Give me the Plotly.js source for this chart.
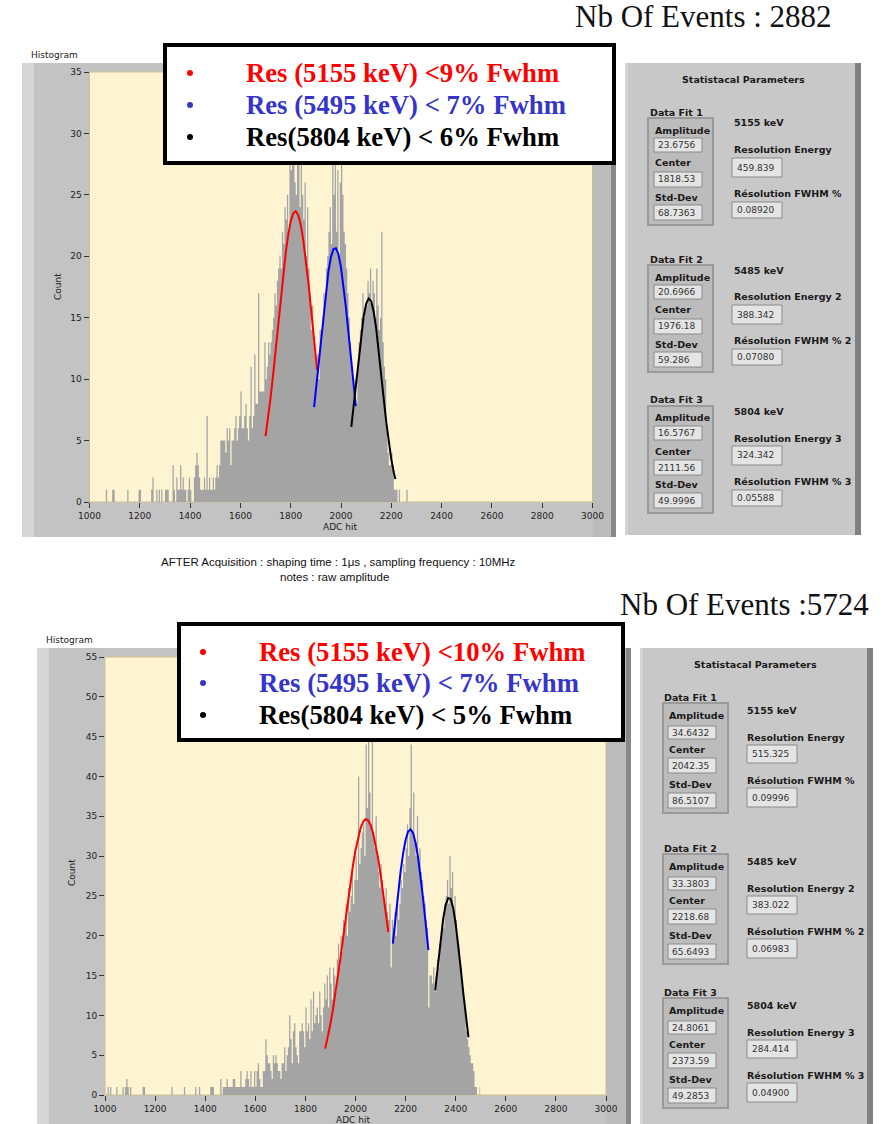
<!DOCTYPE html>
<html><head><meta charset="utf-8">
<script src="https://cdn.plot.ly/plotly-3.0.1.min.js"></script>
<style>html,body{margin:0;padding:0;background:#fff}#chart{width:884px;height:1124px}</style>
</head><body><div id="chart"></div>
<script>
// ---------------- DATA ----------------
const binStart = 1000, binWidth = 5;
const xTicks = [1000,1200,1400,1600,1800,2000,2200,2400,2600,2800,3000];
const yTicksTop = [0,5,10,15,20,25,30,35];
const yTicksBottom = [0,5,10,15,20,25,30,35,40,45,50,55];

// top histogram counts, 5-ADC bins from 1000
const countsTop = [
  0,0,0,0,0,0,0,0,0,0,0,0,0,1,0,0,0,0,1,1,
  0,0,0,0,0,0,0,0,0,0,1,0,0,0,0,0,0,0,0,1,
  1,0,0,0,0,0,0,0,0,1,2,0,0,1,0,1,0,1,0,0,
  1,1,1,0,0,0,3,1,0,2,1,1,3,1,2,1,1,0,1,2,
  1,0,0,2,3,4,3,2,1,1,1,2,1,7,1,2,1,1,2,1,
  2,3,2,3,5,5,5,5,4,6,5,6,3,5,5,6,7,5,6,7,
  9,6,6,7,8,6,5,7,11,6,7,12,8,8,17,9,9,9,9,13,
  10,11,13,12,13,14,15,17,16,18,19,20,19,22,21,24,23,25,22,28,
  27,30,36,26,25,36,32,24,28,25,23,26,20,24,19,17,14,16,13,12,
  11,12,10,14,13,15,17,16,19,20,22,24,21,28,25,30,22,27,20,26,
  34,25,22,21,19,17,15,13,11,10,9,10,8,11,13,14,15,17,15,16,
  16,18,17,19,16,18,17,15,19,16,14,15,22,13,11,10,6,4,3,3,
  4,3,1,1,1,0,1,0,0,0,0,0,1,0,0,0,0,0,0,0
];
// bottom histogram counts, 5-ADC bins from 1000
const countsBottom = [
  0,0,1,0,1,0,0,0,0,1,0,0,0,0,1,0,1,2,1,0,
  1,0,0,0,0,0,0,0,0,0,1,1,0,0,0,0,0,0,0,0,
  0,0,0,0,0,0,0,0,0,0,0,0,0,1,0,0,0,0,0,0,
  0,0,0,1,0,0,0,0,0,0,0,0,1,0,0,1,0,0,0,0,
  0,0,0,0,1,1,1,0,0,0,0,0,2,0,1,1,1,2,1,1,
  1,1,2,2,1,1,1,1,3,1,1,1,2,3,2,1,3,1,1,3,
  1,3,4,2,1,1,3,3,7,5,4,4,3,2,5,4,5,4,3,3,
  2,4,4,6,3,5,6,10,7,4,8,9,6,5,4,8,8,9,8,6,
  11,8,9,7,12,8,13,9,10,11,9,13,10,8,11,14,12,15,11,16,
  14,12,16,15,13,17,19,16,20,18,22,21,24,20,26,23,25,28,24,27,
  30,27,40,29,31,33,34,30,44,36,45,38,34,46,33,31,35,30,28,26,
  29,27,25,24,26,23,22,24,16,22,21,23,20,25,22,24,27,26,29,28,
  31,34,30,36,44,33,38,32,30,35,29,31,28,27,25,24,22,21,11,15,
  15,14,16,13,15,17,16,19,20,22,21,24,25,27,24,30,26,28,23,25,
  22,20,19,17,16,14,12,11,8,7,6,5,4,4,3,1,1,0,0,1
];

// fitted curves
const fitTop1X = [1700,1710,1720,1730,1740,1750,1760,1770,1780,1790,1800,1810,1820,1830,1840,1850,1860,1870,1880,1890,1900,1905];
const fitTop1Y = [5.36,6.82,8.48,10.34,12.34,14.41,16.49,18.46,20.24,21.73,22.84,23.50,23.67,23.35,22.55,21.32,19.74,17.89,15.87,13.79,11.72,10.73];
const fitTop2X = [1893,1900,1910,1920,1930,1940,1950,1960,1970,1980,1990,2000,2010,2020,2030,2040,2050,2059];
const fitTop2Y = [7.73,9.06,11.10,13.21,15.28,17.18,18.78,19.94,20.59,20.66,20.15,19.10,17.60,15.76,13.71,11.60,9.54,7.81];
const fitTop3X = [2041,2050,2060,2070,2080,2090,2100,2110,2120,2130,2140,2150,2160,2170,2180,2190,2200,2210,2216];
const fitTop3Y = [6.12,7.76,9.73,11.73,13.58,15.10,16.14,16.57,16.35,15.49,14.11,12.35,10.38,8.38,6.50,4.85,3.47,2.39,1.88];

const fitBot1X = [1879,1890,1900,1910,1920,1930,1940,1950,1960,1970,1980,1990,2000,2010,2020,2030,2040,2050,2060,2070,2080,2090,2100,2110,2120,2131];
const fitBot1Y = [5.82,7.35,8.95,10.75,12.74,14.91,17.20,19.59,22.02,24.42,26.72,28.85,30.73,32.30,33.50,34.29,34.63,34.51,33.93,32.91,31.51,29.77,27.74,25.51,23.15,20.49];
const fitBot2X = [2149,2160,2170,2180,2190,2200,2210,2220,2230,2240,2250,2260,2270,2280,2291];
const fitBot2Y = [19.00,22.39,25.36,28.06,30.34,32.05,33.09,33.37,32.89,31.66,29.79,27.38,24.59,21.58,18.20];
const fitBot3X = [2318,2330,2340,2350,2360,2370,2380,2390,2400,2410,2420,2430,2440,2451];
const fitBot3Y = [13.13,16.78,19.67,22.12,23.88,24.74,24.60,23.47,21.49,18.89,15.92,12.89,10.01,7.23];

// statistical parameters (texts)
const topAmplitude = ["23.6756","20.6966","16.5767"];
const topCenter    = ["1818.53","1976.18","2111.56"];
const topStdDev    = ["68.7363","59.286","49.9996"];
const topResEnergy = ["459.839","388.342","324.342"];
const topResFwhm   = ["0.08920","0.07080","0.05588"];
const botAmplitude = ["34.6432","33.3803","24.8061"];
const botCenter    = ["2042.35","2218.68","2373.59"];
const botStdDev    = ["86.5107","65.6493","49.2853"];
const botResEnergy = ["515.325","383.022","284.414"];
const botResFwhm   = ["0.09996","0.06983","0.04900"];
const peakEnergies = ["5155 keV","5485 keV","5804 keV"];
const fitNames = ["Data Fit 1","Data Fit 2","Data Fit 3"];
const resEnergyLabels = ["Resolution Energy","Resolution Energy 2","Resolution Energy 3"];
const resFwhmLabels = ["Résolution FWHM %","Résolution FWHM % 2","Résolution FWHM % 3"];
const legendTop = ["Res (5155 keV) <9% Fwhm","Res (5495 keV) < 7% Fwhm","Res(5804 keV) < 6% Fwhm"];
const legendBottom = ["Res (5155 keV) <10% Fwhm","Res (5495 keV) < 7% Fwhm","Res(5804 keV) < 5% Fwhm"];
const legendColors = ["#ff0000","#3535c8","#000000"];
const fitColors = ["#ff0000","#0000ff","#000000"];
const eventsTop = "Nb Of Events : 2882";
const eventsBottom = "Nb Of Events :5724";
const acqLine1 = "AFTER Acquisition : shaping time : 1μs , sampling frequency : 10MHz";
const acqLine2 = "notes : raw amplitude";

// ---------------- LAYOUT HELPERS ----------------
const W = 884, H = 1124;
const X = p => p / W, Y = p => 1 - p / H;
const shapes = [], ann = [];
function rect(x0, y0, x1, y1, fill, lineColor, lw, layer) {
  shapes.push({type:'rect', xref:'paper', yref:'paper', x0:X(x0), x1:X(x1), y0:Y(y1), y1:Y(y0),
    fillcolor: fill, line:{color: lineColor || fill, width: lw || 0}, layer: layer || 'below'});
}
function dot(cx, cy, r, color) {
  shapes.push({type:'circle', xref:'paper', yref:'paper', x0:X(cx - r), x1:X(cx + r), y0:Y(cy + r), y1:Y(cy - r),
    fillcolor: color, line:{width:0}, layer:'above'});
}
function txt(x, y, t, size, opts) {
  opts = opts || {};
  ann.push({xref:'paper', yref:'paper', x:X(x), y:Y(y), text:t, showarrow:false,
    xanchor: opts.xa || 'left', yanchor: 'middle', textangle: opts.angle || 0,
    font:{family: opts.family || 'DejaVu Sans', size: size, color: opts.color || '#1a1a1a', weight: opts.bold ? 'bold' : 'normal'}});
}

// ---- histogram frames ----
function frame(fx0, fy0, fx1, fy1, px0, py0, px1, py1) {
  rect(fx0, fy0, fx1, fy1, '#c3c3c3');
  rect(fx0, fy0, fx0 + 12, fy1, '#d6d6d6');
  rect(px1, fy0, fx1 - 5, fy1, '#bbbbbb');
  rect(fx1 - 5, fy0, fx1, fy1, '#888888');
  rect(px0, py0, px1, py1, '#fef4d2', '#cdbf93', 1);
}
frame(22, 63, 616, 537, 89.5, 72, 592.5, 502);
frame(37, 648, 631, 1130, 105, 657, 606, 1095);

// ---- statistics panels ----
function statsPanel(p, amp, cen, std, resE, resF) {
  rect(p.x0, p.y0, p.x1, p.y1, '#c8c8c8');
  rect(p.x0, p.y0, p.x0 + 3, p.y1, '#d4d4d4');
  rect(p.x1 - 6, p.y0, p.x1, p.y1, '#808080');
  txt(p.tx, p.ty, 'Statistacal Parameters', 9.5, {bold:true, xa:'center'});
  for (let i = 0; i < 3; i++) {
    const b = p.fy[i], L = p.L;
    txt(p.lx, b, fitNames[i], 9.5, {bold:true});
    rect(p.sx0, b + L.sub[0], p.sx1, b + L.sub[1], '#bcbcbc', '#9a9a9a', 2);
    txt(p.lx + 5, b + L.ampL, 'Amplitude', 9.5, {bold:true});
    rect(p.vx0, b + L.ampB[0], p.vx1, b + L.ampB[1], '#e4e4e4', '#8a8a8a', 1);
    txt(p.vx0 + 2, b + (L.ampB[0] + L.ampB[1]) / 2, amp[i], 9, {color:'#333'});
    txt(p.lx + 5, b + L.cenL, 'Center', 9.5, {bold:true});
    rect(p.vx0, b + L.cenB[0], p.vx1, b + L.cenB[1], '#e4e4e4', '#8a8a8a', 1);
    txt(p.vx0 + 2, b + (L.cenB[0] + L.cenB[1]) / 2, cen[i], 9, {color:'#333'});
    txt(p.lx + 5, b + L.stdL, 'Std-Dev', 9.5, {bold:true});
    rect(p.vx0, b + L.stdB[0], p.vx1, b + L.stdB[1], '#e4e4e4', '#8a8a8a', 1);
    txt(p.vx0 + 2, b + (L.stdB[0] + L.stdB[1]) / 2, std[i], 9, {color:'#333'});
    txt(p.rx, b + L.kev, peakEnergies[i], 9.5, {bold:true});
    txt(p.rx, b + L.reL, resEnergyLabels[i], 9.5, {bold:true});
    rect(p.rx0, b + L.reB[0], p.rx1, b + L.reB[1], '#e4e4e4', '#8a8a8a', 1);
    txt(p.rx0 + 3, b + (L.reB[0] + L.reB[1]) / 2, resE[i], 9, {color:'#333'});
    txt(p.rx, b + L.rfL, resFwhmLabels[i], 9.5, {bold:true});
    rect(p.rx0, b + L.rfB[0], p.rx1, b + L.rfB[1], '#e4e4e4', '#8a8a8a', 1);
    txt(p.rx0 + 3, b + (L.rfB[0] + L.rfB[1]) / 2, resF[i], 9, {color:'#333'});
  }
}
statsPanel({x0:625, y0:63, x1:861, y1:535, tx:743, ty:80, lx:648, fy:[112,259,400],
  sx0:648, sx1:713, vx0:654, vx1:702, rx:732, rx0:732, rx1:782,
  L:{sub:[6,113], ampL:18, ampB:[26,40], cenL:51, cenB:[60,75], stdL:85, stdB:[93,108],
     kev:11, reL:38, reB:[46,65], rfL:81, rfB:[90,106]}},
  topAmplitude, topCenter, topStdDev, topResEnergy, topResFwhm);
statsPanel({x0:640, y0:648, x1:873, y1:1130, tx:755, ty:664, lx:662, fy:[697,848,992],
  sx0:663, sx1:728, vx0:668, vx1:716, rx:745, rx0:747, rx1:797,
  L:{sub:[6,116], ampL:18, ampB:[29,42], cenL:52, cenB:[61,76], stdL:87, stdB:[96,111],
     kev:13, reL:40, reB:[48,66], rfL:83, rfB:[91,110]}},
  botAmplitude, botCenter, botStdDev, botResEnergy, botResFwhm);

// ---- legend boxes (above data) ----
rect(165, 45, 614, 163, '#ffffff', '#000000', 4, 'above');
rect(179, 624, 623, 740, '#ffffff', '#000000', 4, 'above');
const legTopY = [73, 105, 137], legBotY = [652, 683, 715];
for (let i = 0; i < 3; i++) {
  dot(190, legTopY[i], 3, legendColors[i]);
  txt(244, legTopY[i], legendTop[i], 26.7, {family:'Liberation Serif', bold:true, color: legendColors[i]});
  dot(203, legBotY[i], 3, legendColors[i]);
  txt(257, legBotY[i], legendBottom[i], 26.7, {family:'Liberation Serif', bold:true, color: legendColors[i]});
}

// ---- other texts ----
txt(834, 17, eventsTop, 31, {xa:'right', family:'Liberation Serif', color:'#111'});
txt(871, 604, eventsBottom, 31, {xa:'right', family:'Liberation Serif', color:'#111'});
txt(338, 562, acqLine1, 11.5, {xa:'center', family:'Liberation Sans', color:'#111'});
txt(334, 577, acqLine2, 11.5, {xa:'center', family:'Liberation Sans', color:'#111'});
txt(29, 55, 'Histogram', 9, {color:'#222'});
txt(44, 640, 'Histogram', 9, {color:'#222'});
txt(58, 287, 'Count', 9, {xa:'center', angle:-90, color:'#222'});
txt(72, 873, 'Count', 9, {xa:'center', angle:-90, color:'#222'});
txt(340, 527, 'ADC hit', 9, {xa:'center', color:'#222'});
txt(353, 1120, 'ADC hit', 9, {xa:'center', color:'#222'});

// ---------------- TRACES ----------------
const centers = arr => arr.map((c, i) => binStart + binWidth * (i + 0.5));
function histTrace(counts, xa, ya) {
  return {type:'scatter', mode:'lines', x: centers(counts), y: counts, xaxis: xa, yaxis: ya,
    line:{shape:'hvh', width:0, color:'#a4a4a4'}, fill:'tozeroy', fillcolor:'#a4a4a4', hoverinfo:'skip'};
}
function fitTrace(x, y, color, xa, ya) {
  return {type:'scatter', mode:'lines', x: x, y: y, xaxis: xa, yaxis: ya,
    line:{color: color, width: 2}, hoverinfo:'skip'};
}
const data = [
  histTrace(countsTop, 'x', 'y'),
  fitTrace(fitTop1X, fitTop1Y, fitColors[0], 'x', 'y'),
  fitTrace(fitTop2X, fitTop2Y, fitColors[1], 'x', 'y'),
  fitTrace(fitTop3X, fitTop3Y, fitColors[2], 'x', 'y'),
  histTrace(countsBottom, 'x2', 'y2'),
  fitTrace(fitBot1X, fitBot1Y, fitColors[0], 'x2', 'y2'),
  fitTrace(fitBot2X, fitBot2Y, fitColors[1], 'x2', 'y2'),
  fitTrace(fitBot3X, fitBot3Y, fitColors[2], 'x2', 'y2')
];

const axisCommon = {ticks:'outside', ticklen:5, tickwidth:1, tickcolor:'#333', showgrid:false,
  zeroline:false, showline:false, fixedrange:true, tickfont:{family:'DejaVu Sans', size:9, color:'#222'}};
const layout = {
  width: W, height: H, margin:{l:0, r:0, t:0, b:0},
  paper_bgcolor:'#ffffff', plot_bgcolor:'rgba(0,0,0,0)', showlegend:false,
  xaxis: Object.assign({}, axisCommon, {domain:[X(89.5), X(592.5)], range:[1000,3000], tickvals:xTicks, anchor:'y'}),
  yaxis: Object.assign({}, axisCommon, {domain:[Y(502), Y(72)], range:[0,35], tickvals:yTicksTop, anchor:'x'}),
  xaxis2: Object.assign({}, axisCommon, {domain:[X(105), X(606)], range:[1000,3000], tickvals:xTicks, anchor:'y2'}),
  yaxis2: Object.assign({}, axisCommon, {domain:[Y(1095), Y(657)], range:[0,55], tickvals:yTicksBottom, anchor:'x2'}),
  shapes: shapes, annotations: ann
};
Plotly.newPlot('chart', data, layout, {staticPlot:true, displayModeBar:false});
</script></body></html>
